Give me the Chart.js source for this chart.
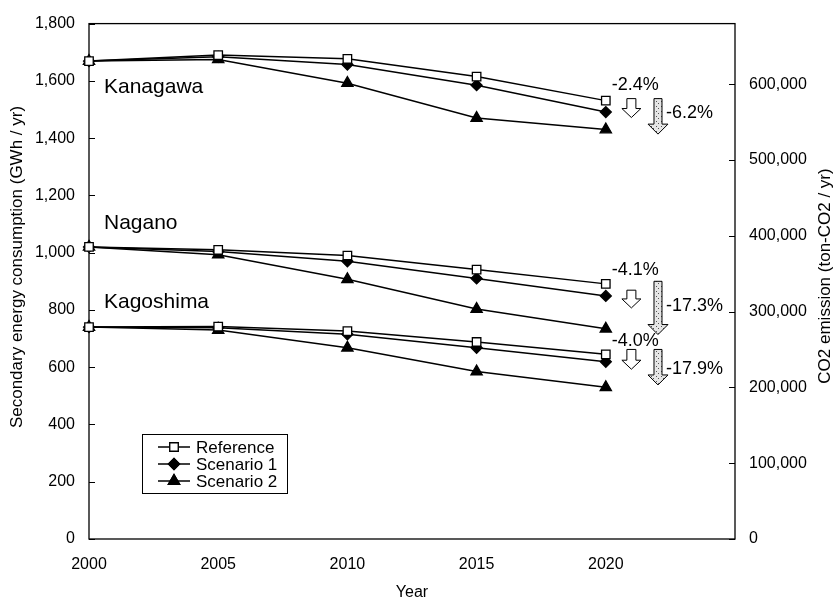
<!DOCTYPE html>
<html lang="en">
<head>
  <meta charset="UTF-8" />
  <title>Secondary energy consumption</title>
  <script src="https://cdn.jsdelivr.net/npm/chart.js"></script>
  <style>
    body { margin: 0; background: #fff; }
    .wrap { width: 834px; height: 601px; position: relative; }
  </style>
</head>
<body>
  <div class="wrap"><canvas id="chart"></canvas></div>

  <script>
    // data (GWh / yr)
    const years = [2000, 2005, 2010, 2015, 2020];
    const kanagawaRef = [1669, 1690, 1677, 1615, 1531];
    const kanagawaS1  = [1669, 1684, 1657, 1585, 1491];
    const kanagawaS2  = [1669, 1675, 1592, 1470, 1430];
    const naganoRef   = [1020, 1010, 990, 941, 891];
    const naganoS1    = [1020, 1004, 970, 910, 849];
    const naganoS2    = [1020, 993, 907, 803, 734];
    const kagoshimaRef = [740, 742, 726, 688, 645];
    const kagoshimaS1  = [740, 738, 715, 668, 619];
    const kagoshimaS2  = [740, 730, 668, 585, 530];

    const co2Ticks = [0, 100000, 200000, 300000, 400000, 500000, 600000];

    const seriesNames = ['Reference', 'Scenario 1', 'Scenario 2'];
    const regionNames = ['Kanagawa', 'Nagano', 'Kagoshima'];
    const regionLabelY = [1579, 1103, 828];
    const smallChange = ['-2.4%', '-4.1%', '-4.0%'];
    const smallChangeY = [1586, 941, 690];
    const bigChange = ['-6.2%', '-17.3%', '-17.9%'];
    const bigChangeY = [1486, 814, 593];
    const hollowArrows = [[1538, 1472], [869, 807], [662, 593]];
    const dottedArrows = [[1538, 1414], [900, 714], [662, 538]];

    const FONT = "'Liberation Sans', Arial, sans-serif";

    const styles = [
      { pointStyle: 'rect', pointRadius: 6, pointBackgroundColor: '#fff' },
      { pointStyle: 'rectRot', pointRadius: 5.5, pointBackgroundColor: '#000' },
      { pointStyle: 'triangle', pointRadius: 6.5, pointBackgroundColor: '#000' }
    ];

    function series(values, kind) {
      return Object.assign({
        label: seriesNames[kind],
        data: years.map((y, i) => ({ x: y, y: values[i] })),
        borderColor: '#000',
        borderWidth: 1.5,
        pointBorderColor: '#000',
        pointBorderWidth: 1.3,
        tension: 0,
        clip: false
      }, styles[kind]);
    }

    const datasets = [
      series(kanagawaRef, 0), series(kanagawaS1, 1), series(kanagawaS2, 2),
      series(naganoRef, 0), series(naganoS1, 1), series(naganoS2, 2),
      series(kagoshimaRef, 0), series(kagoshimaS1, 1), series(kagoshimaS2, 2)
    ];

    // dotted fill for the big arrows
    function dotPattern(ctx) {
      const c = document.createElement('canvas');
      c.width = 5; c.height = 5;
      const p = c.getContext('2d');
      p.fillStyle = '#e6e6e6';
      p.fillRect(0, 0, 5, 5);
      p.fillStyle = '#555';
      p.fillRect(1, 1, 1, 1);
      p.fillRect(3, 3, 1, 1);
      return ctx.createPattern(c, 'repeat');
    }

    function arrow(ctx, cx, top, bottom, shaftW, headW, headH, fill) {
      ctx.beginPath();
      ctx.moveTo(cx - shaftW / 2, top);
      ctx.lineTo(cx + shaftW / 2, top);
      ctx.lineTo(cx + shaftW / 2, bottom - headH);
      ctx.lineTo(cx + headW / 2, bottom - headH);
      ctx.lineTo(cx, bottom);
      ctx.lineTo(cx - headW / 2, bottom - headH);
      ctx.lineTo(cx - shaftW / 2, bottom - headH);
      ctx.closePath();
      ctx.fillStyle = fill;
      ctx.fill();
      ctx.lineWidth = 1;
      ctx.strokeStyle = '#000';
      ctx.stroke();
    }

    const framePlugin = {
      id: 'frame',
      beforeDatasetsDraw(chart) {
        const { ctx, chartArea: a, scales } = chart;
        ctx.save();
        ctx.strokeStyle = '#000';
        ctx.lineWidth = 1.3;
        ctx.strokeRect(a.left, a.top, a.right - a.left, a.bottom - a.top);
        ctx.lineWidth = 1;
        ctx.beginPath();
        scales.y.ticks.forEach(t => {
          const py = Math.round(scales.y.getPixelForValue(t.value)) + 0.5;
          ctx.moveTo(a.left, py); ctx.lineTo(a.left + 6, py);
        });
        scales.y1.ticks.forEach(t => {
          const py = Math.round(scales.y1.getPixelForValue(t.value)) + 0.5;
          ctx.moveTo(a.right - 6, py); ctx.lineTo(a.right, py);
        });
        ctx.stroke();
        ctx.restore();
      },
      afterDatasetsDraw(chart) {
        const { ctx, chartArea: a, scales } = chart;
        const x = scales.x, y = scales.y;
        ctx.save();
        ctx.fillStyle = '#000';
        ctx.textBaseline = 'middle';

        // region names
        ctx.font = '21px ' + FONT;
        ctx.textAlign = 'left';
        regionNames.forEach((n, i) => {
          ctx.fillText(n, x.getPixelForValue(2000.58), y.getPixelForValue(regionLabelY[i]));
        });

        // change arrows and labels
        const dots = dotPattern(ctx);
        hollowArrows.forEach(([a0, a1]) => {
          arrow(ctx, x.getPixelForValue(2020.99), y.getPixelForValue(a0), y.getPixelForValue(a1), 9, 19, 9, '#fff');
        });
        dottedArrows.forEach(([a0, a1]) => {
          arrow(ctx, x.getPixelForValue(2022.02), y.getPixelForValue(a0), y.getPixelForValue(a1), 8, 20, 10, dots);
        });
        ctx.fillStyle = '#000';
        ctx.font = '18px ' + FONT;
        ctx.textAlign = 'center';
        smallChange.forEach((s, i) => {
          ctx.fillText(s, x.getPixelForValue(2021.14), y.getPixelForValue(smallChangeY[i]));
        });
        ctx.textAlign = 'left';
        bigChange.forEach((s, i) => {
          ctx.fillText(s, x.getPixelForValue(2022.33), y.getPixelForValue(bigChangeY[i]));
        });

        // axis titles
        ctx.font = '17px ' + FONT;
        ctx.textAlign = 'center';
        ctx.save();
        ctx.translate(17, 267);
        ctx.rotate(-Math.PI / 2);
        ctx.fillText('Secondary energy consumption (GWh / yr)', 0, 0);
        ctx.restore();
        ctx.save();
        ctx.translate(825, 276);
        ctx.rotate(-Math.PI / 2);
        ctx.fillText('CO2 emission (ton-CO2 / yr)', 0, 0);
        ctx.restore();
        ctx.font = '16px ' + FONT;
        ctx.fillText('Year', (a.left + a.right) / 2, 593);

        // legend
        ctx.fillStyle = '#fff';
        ctx.fillRect(142, 434, 145, 59);
        ctx.strokeStyle = '#000';
        ctx.lineWidth = 1;
        ctx.strokeRect(142.5, 434.5, 145, 59);
        const rows = [447, 464, 481];
        ctx.font = '17px ' + FONT;
        ctx.textAlign = 'left';
        rows.forEach((ry, i) => {
          ctx.beginPath();
          ctx.lineWidth = 1.5;
          ctx.moveTo(158, ry); ctx.lineTo(190, ry);
          ctx.stroke();
          ctx.lineWidth = 1.3;
          Chart.helpers.drawPoint(ctx, {
            pointStyle: styles[i].pointStyle,
            radius: styles[i].pointRadius,
            borderWidth: 1.3
          }, 174, ry);
          ctx.fillStyle = styles[i].pointBackgroundColor;
          ctx.strokeStyle = '#000';
          ctx.fill();
          ctx.stroke();
          ctx.fillStyle = '#000';
          ctx.fillText(seriesNames[i], 196, ry + 1);
        });
        ctx.restore();
      }
    };

    const tickFont = { family: FONT, size: 16 };

    new Chart(document.getElementById('chart'), {
      type: 'line',
      data: { datasets },
      options: {
        responsive: true,
        maintainAspectRatio: false,
        animation: false,
        layout: { padding: { top: 17, left: 0, right: 0, bottom: 0 } },
        plugins: { legend: { display: false }, tooltip: { enabled: false } },
        scales: {
          x: {
            type: 'linear',
            min: 2000,
            max: 2025,
            grid: { display: false, drawTicks: false },
            border: { display: false },
            ticks: {
              stepSize: 5,
              padding: 16,
              color: '#000',
              font: tickFont,
              maxRotation: 0,
              autoSkip: false,
              callback: v => (v <= 2020 ? String(v) : '')
            },
            afterFit: s => { s.height = 62; }
          },
          y: {
            position: 'left',
            min: 0,
            max: 1800,
            grid: { display: false, drawTicks: false },
            border: { display: false },
            ticks: {
              stepSize: 200,
              padding: 14,
              color: '#000',
              font: tickFont,
              callback: v => v.toLocaleString('en-US')
            },
            afterFit: s => { s.width = 89; }
          },
          y1: {
            position: 'right',
            min: 0,
            max: 680000,
            grid: { display: false, drawTicks: false },
            border: { display: false },
            afterBuildTicks: s => { s.ticks = co2Ticks.map(v => ({ value: v })); },
            ticks: {
              padding: 14,
              color: '#000',
              font: tickFont,
              autoSkip: false,
              callback: v => v.toLocaleString('en-US')
            },
            afterFit: s => { s.width = 99; }
          }
        }
      },
      plugins: [framePlugin]
    });
  </script>
</body>
</html>
